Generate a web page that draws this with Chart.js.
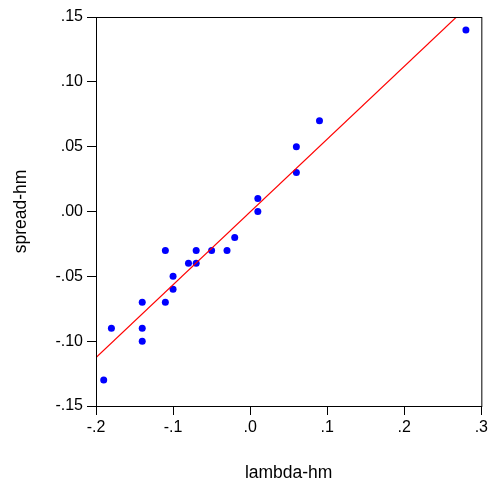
<!DOCTYPE html>
<html>
<head>
<meta charset="utf-8">
<script src="https://cdn.jsdelivr.net/npm/chart.js@4/dist/chart.umd.min.js"></script>
<style>
  html, body { margin: 0; padding: 0; background: #fff; }
  #wrap { width: 491px; height: 487px; }
</style>
</head>
<body>
<div id="wrap"><canvas id="c" width="491" height="487"></canvas></div>
<script>
// values
const lambdaHm = [0.28, 0.09, 0.06, 0.06, 0.01, 0.01, -0.02, -0.03, -0.05, -0.07, -0.07,
                  -0.08, -0.10, -0.10, -0.11, -0.11, -0.14, -0.14, -0.14, -0.18, -0.19];
const spreadHm = [0.14, 0.07, 0.05, 0.03, 0.01, 0.00, -0.02, -0.03, -0.03, -0.03, -0.04,
                  -0.04, -0.05, -0.06, -0.03, -0.07, -0.07, -0.09, -0.10, -0.09, -0.13];
const xTicks = [-0.2, -0.1, 0.0, 0.1, 0.2, 0.3];
const yTicks = [-0.15, -0.10, -0.05, 0.00, 0.05, 0.10, 0.15];

// least squares fit line
function fit(xs, ys) {
  const n = xs.length;
  const mx = xs.reduce((a, b) => a + b, 0) / n;
  const my = ys.reduce((a, b) => a + b, 0) / n;
  let sxy = 0, sxx = 0;
  xs.forEach((x, i) => { sxy += (x - mx) * (ys[i] - my); sxx += (x - mx) * (x - mx); });
  const b = sxy / sxx;
  return { a: my - b * mx, b };
}
const reg = fit(lambdaHm, spreadHm);
const lineX = [xTicks[0], xTicks[xTicks.length - 1]];

const fmt = (v, d) => v.toFixed(d).replace(/^(-?)0\./, '$1.');
const FONT = '"Liberation Sans", Arial, sans-serif';

const frame = {
  id: 'frame',
  afterDraw(chart) {
    const { ctx, chartArea: a } = chart;
    ctx.save();
    ctx.strokeStyle = '#000';
    ctx.lineWidth = 1;
    ctx.strokeRect(a.left + 0.5, a.top + 0.5, a.right - a.left, a.bottom - a.top);
    ctx.restore();
  }
};

new Chart(document.getElementById('c').getContext('2d'), {
  type: 'scatter',
  data: {
    datasets: [
      {
        label: 'fit',
        type: 'line',
        data: lineX.map(x => ({ x, y: reg.a + reg.b * x })),
        borderColor: '#ff0000',
        borderWidth: 1.2,
        pointRadius: 0,
        fill: false
      },
      {
        label: 'data',
        data: lambdaHm.map((x, i) => ({ x, y: spreadHm[i] })),
        backgroundColor: '#0000ff',
        borderWidth: 0,
        pointRadius: 3.5
      }
    ]
  },
  options: {
    responsive: false,
    animation: false,
    layout: { padding: { top: 17, right: 6, left: 0, bottom: 0 } },
    plugins: { legend: { display: false }, tooltip: { enabled: false } },
    scales: {
      x: {
        type: 'linear',
        min: -0.2, max: 0.3,
        afterBuildTicks: s => { s.ticks = xTicks.map(v => ({ value: v })); },
        afterFit: s => { s.height = 81; },
        grid: { drawOnChartArea: false, color: '#000', tickLength: 9 },
        border: { color: '#000' },
        ticks: { color: '#000', padding: 3, font: { family: FONT, size: 16 }, callback: v => fmt(v, 1) },
        title: { display: true, text: 'lambda-hm', color: '#000', padding: { bottom: 3 }, font: { family: FONT, size: 17.5 } }
      },
      y: {
        type: 'linear',
        min: -0.15, max: 0.15,
        afterBuildTicks: s => { s.ticks = yTicks.map(v => ({ value: v })); },
        afterFit: s => { s.width = 96; },
        grid: { drawOnChartArea: false, color: '#000', tickLength: 9 },
        border: { color: '#000' },
        ticks: { color: '#000', padding: 4, font: { family: FONT, size: 16 }, callback: v => fmt(v, 2) },
        title: { display: true, text: 'spread-hm', color: '#000', padding: { top: 11 }, font: { family: FONT, size: 17.5 } }
      }
    }
  },
  plugins: [frame]
});
</script>
</body>
</html>
